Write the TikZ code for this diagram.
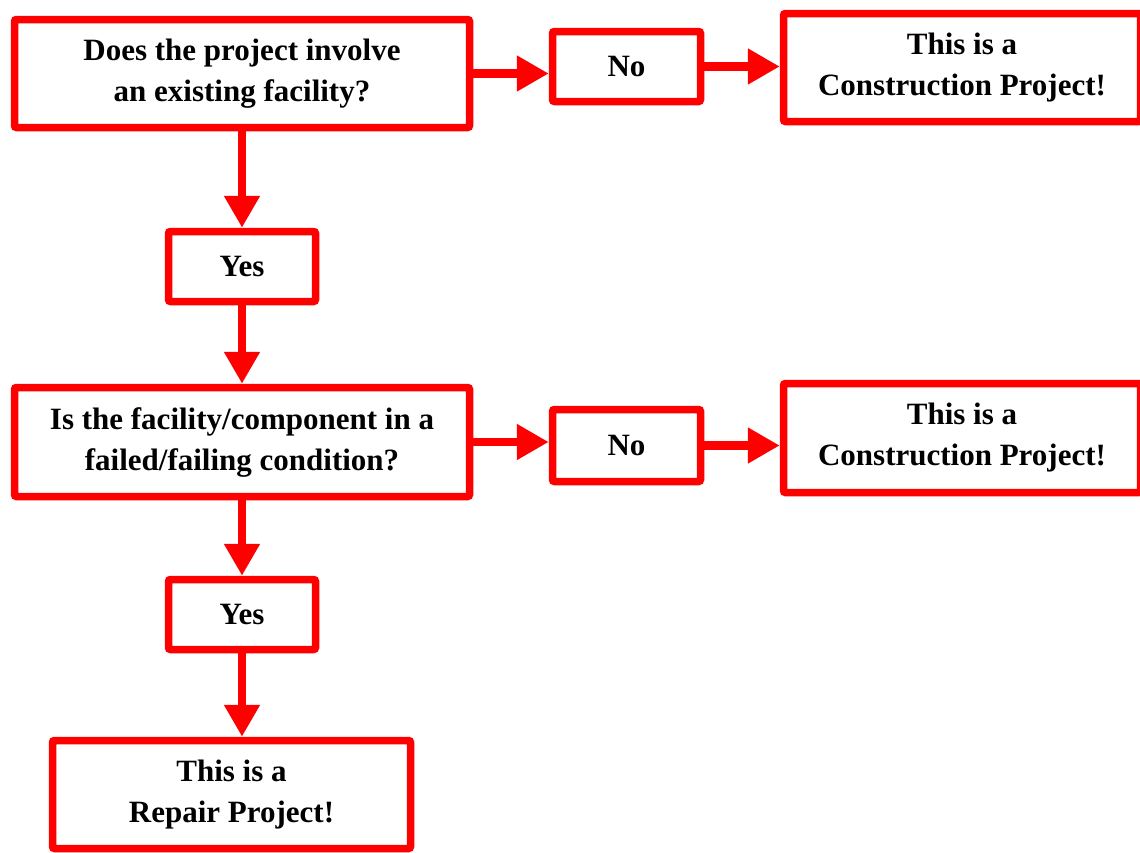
\documentclass[tikz,border=0pt]{standalone}
\usepackage{fontspec}
\setmainfont{Liberation Serif}
\usetikzlibrary{arrows.meta}
\tikzset{
  box/.style={draw=red, line width=7.5pt, rounded corners=2pt, fill=white,
    align=center, font=\fontsize{31}{41}\selectfont\bfseries, inner sep=0pt},
  conn/.style={draw=red, line width=8.5pt, -{Triangle[length=32pt,width=34pt]}}
}
\begin{document}
\begin{tikzpicture}[x=1pt,y=-1pt]
\useasboundingbox (0,0) rectangle (1140,852);
\node[box, minimum width=455pt, minimum height=108pt] (q1) at (242,73.5) {Does the project involve\\an existing facility?};
\node[box, minimum width=148pt, minimum height=70pt] (no1) at (626.5,66.5) {No};
\node[box, minimum width=357pt, minimum height=108pt] (c1) at (962,67.5) {This is a\\Construction Project!};
\node[box, minimum width=147pt, minimum height=70pt] (yes1) at (242,266.5) {Yes};
\node[box, minimum width=455pt, minimum height=109pt] (q2) at (242,442) {Is the facility/component in a\\failed/failing condition?};
\node[box, minimum width=148pt, minimum height=72pt] (no2) at (626.5,445.5) {No};
\node[box, minimum width=357pt, minimum height=109pt] (c2) at (962,438) {This is a\\Construction Project!};
\node[box, minimum width=147pt, minimum height=70pt] (yes2) at (242,614.5) {Yes};
\node[box, minimum width=358pt, minimum height=108pt] (rep) at (231.5,794.5) {This is a\\Repair Project!};
\draw[conn] (q1.east) -- (no1.west |- q1.east);
\draw[conn] (no1.east) -- (c1.west |- no1.east);
\draw[conn] (q1.south) -- (yes1.north);
\draw[conn] (yes1.south) -- (q2.north);
\draw[conn] (q2.east) -- (no2.west |- q2.east);
\draw[conn] (no2.east) -- (c2.west |- no2.east);
\draw[conn] (q2.south) -- (yes2.north);
\draw[conn] (yes2.south) -- (yes2.south |- rep.north);
\end{tikzpicture}
\end{document}
